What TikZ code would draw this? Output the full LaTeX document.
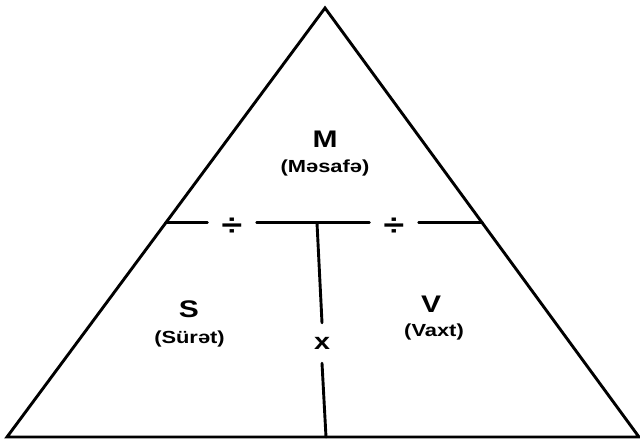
\documentclass[tikz,border=0pt]{standalone}
\usepackage{fontspec}
\newfontfamily\lblfont{Liberation Sans}[FakeStretch=1.25]
\usepackage{tikz}
\usetikzlibrary{positioning, calc}

\begin{document}
\begin{tikzpicture}[x=1pt, y=-1pt,
    edge/.style={line width=2.9pt, black, line cap=round, line join=miter},
    qty/.style={font=\lblfont\bfseries\fontsize{24}{26}\selectfont, inner sep=0pt},
    word/.style={font=\lblfont\bfseries\fontsize{17.5}{19}\selectfont, inner sep=0pt},
    op/.style={font=\lblfont\bfseries\fontsize{30}{32}\selectfont, inner sep=0pt, minimum width=49pt},
]
    \useasboundingbox (0,0) rectangle (640,441);

    % Corners
    \coordinate (apex) at (325,8);
    \coordinate (bl)   at (7,437);
    \coordinate (br)   at (639,437);
    \coordinate (hl) at ($(apex)!0.501!(bl)$);
    \coordinate (hr) at ($(apex)!0.501!(br)$);
    \coordinate (vtop) at (317,223);
    \coordinate (vbot) at (326,437);

    % Triangle
    \draw[edge] (apex) -- (bl) -- (br) -- cycle;

    % Operators
    \node[op] (div1) at (232,227) {÷};
    \node[op] (div2) at (394,227) {÷};
    \node[qty, font=\lblfont\bfseries\fontsize{23}{25}\selectfont, minimum height=40pt] (times) at (322,343) {x};

    % Dividing lines
    \draw[edge] (hl) -- (hl -| div1.west);
    \draw[edge] (hl -| div1.east) -- (hl -| div2.west);
    \draw[edge] (hl -| div2.east) -- (hr);
    \draw[edge] (vtop) -- (times.north);
    \draw[edge] (times.south) -- (vbot);

    % Quantities
    \node[qty]  (dist)  at (325,139.5) {M};
    \node[word] (distw) at (325,168)   {(Məsafə)};
    \node[qty]  (speed)  at (189,309.5) {S};
    \node[word] (speedw) at (189.5,339) {(Sürət)};
    \node[qty]  (time)  at (431,304.5) {V};
    \node[word] (timew) at (434,331.5) {(Vaxt)};
\end{tikzpicture}
\end{document}
